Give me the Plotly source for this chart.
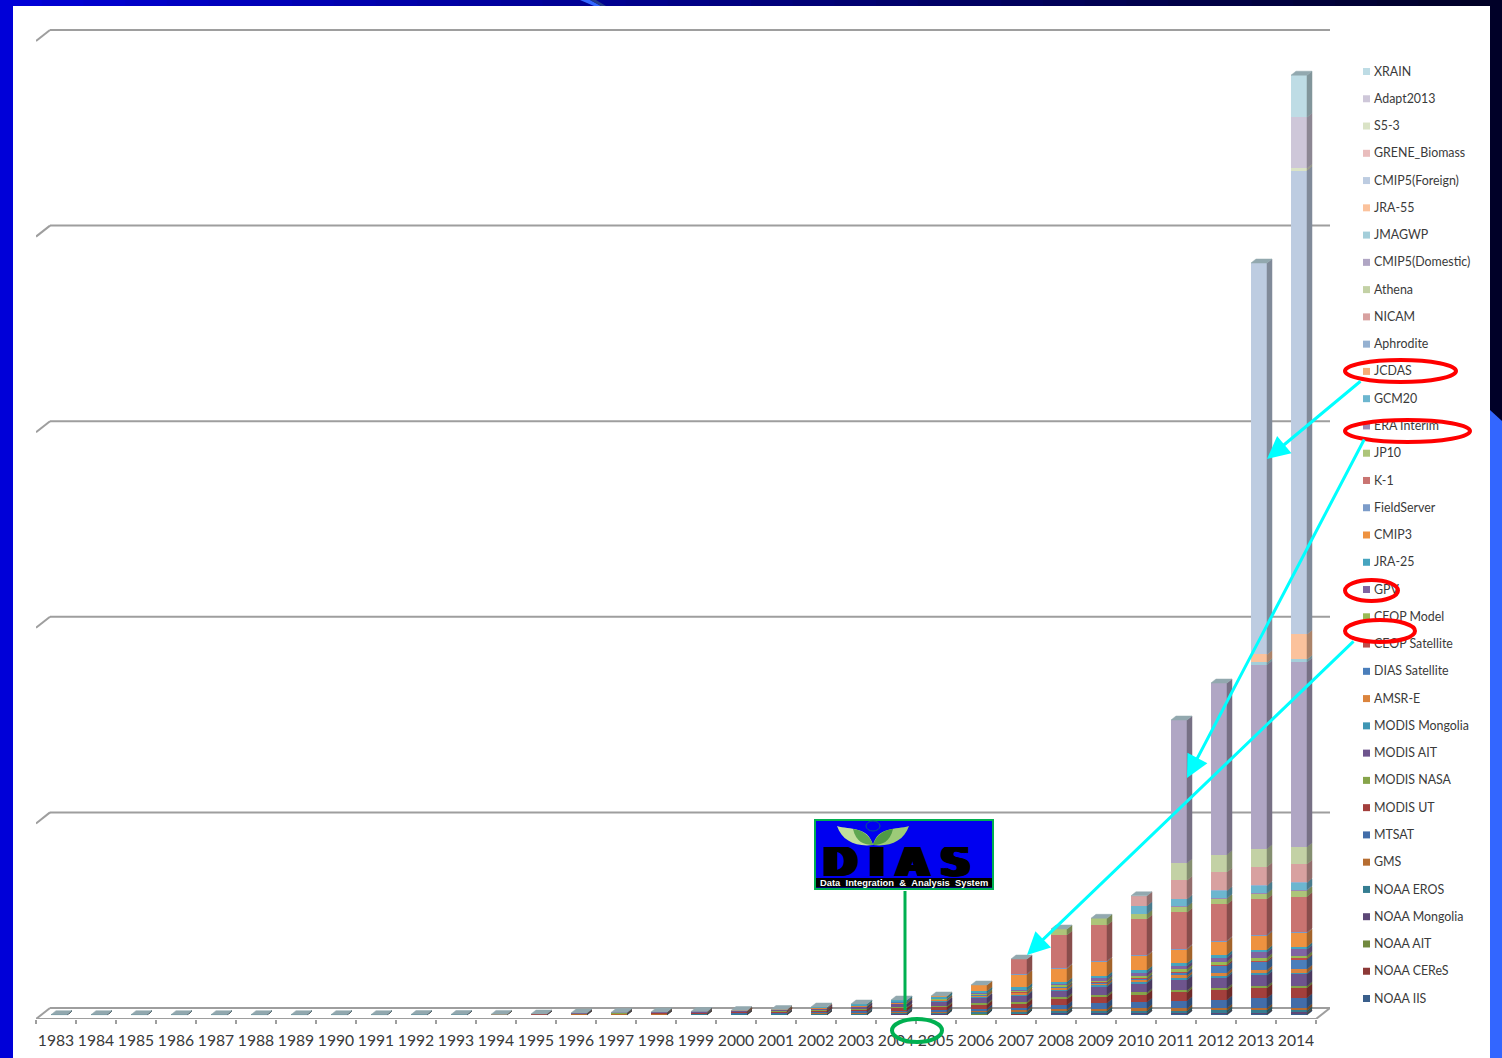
import plotly.graph_objects as go

W, H = 1502, 1058

years = list(range(1983, 2015))

series_names = [
    "NOAA IIS", "NOAA CEReS", "NOAA AIT", "NOAA Mongolia", "NOAA EROS", "GMS", "MTSAT",
    "MODIS UT", "MODIS NASA", "MODIS AIT", "MODIS Mongolia", "AMSR-E", "DIAS Satellite",
    "CEOP Satellite", "CEOP Model", "GPV", "JRA-25", "CMIP3", "FieldServer", "K-1", "JP10",
    "ERA Interim", "GCM20", "JCDAS", "Aphrodite", "NICAM", "Athena", "CMIP5(Domestic)",
    "JMAGWP", "JRA-55", "CMIP5(Foreign)", "GRENE_Biomass", "S5-3", "Adapt2013", "XRAIN",
]

series_colors = [
    "#3A5F8B", "#8C3836", "#71893F", "#5C4776", "#357D91", "#B66D31", "#426DA9",
    "#A33F3C", "#86A44A", "#6E548D", "#3F96B4", "#DB843D", "#4A7EBB",
    "#BD4D4A", "#99BA55", "#8064A2", "#46A4BF", "#EE9240", "#7C9CC9", "#C97471", "#ADC579",
    "#9C88B5", "#6CB6CF", "#F7AC76", "#95B1D1", "#D8A1A0", "#C3D1A5", "#B0A6C4",
    "#A4CEDA", "#FBC29C", "#BDCCE1", "#E9BDBD", "#DAE3C6", "#CEC7D9", "#BEDCE5",
]

# Stacked values per year, bottom series first; series not listed are zero that year.
early_1983 = [.15, .05, .03, .03, .04]
early_1984 = [.15, .05, .03, .03, .04]
early_1985 = [.15, .05, .03, .03, .04]
early_1986 = [.15, .05, .03, .03, .04]
early_1987 = [.15, .05, .03, .03, .04]
early_1988 = [.15, .05, .03, .03, .04]
early_1989 = [.15, .05, .03, .03, .04]
early_1990 = [.15, .05, .03, .03, .04]
early_1991 = [.15, .05, .03, .03, .04]
early_1992 = [.2, .05, .05, .05, .05]
early_1993 = [.2, .05, .05, .05, .15]
early_1994 = [.2, .05, .05, .05, .1, .15]
early_1995 = [.2, .1, .05, .05, .2, .1, .1, .2]
early_1996 = [.3, .1, .1, .1, .2, .2, .2, .4, .1, .3]
early_1997 = [.3, .1, .1, .1, .3, .2, .3, .5, .1, .5]
early_1998 = [.3, .1, .1, .1, .3, .3, .4, .6, .2, .6]
early_1999 = [.3, .1, .1, .1, .4, .3, .5, .8, .2, .7]
early_2000 = [.3, .1, .1, .1, .5, .4, .6, 1, .2, .7, 0, .5]
early_2001 = [.3, .1, .1, .1, .6, .5, .8, 1.3, .3, .9, 0, .5]
early_2002 = [.3, .1, .1, .2, .8, .6, 1, 1.7, .4, 1.3, 0, .7, 0, 0, 0, 0, .8]
early_2003 = [.4, .1, .1, .2, 1, .7, 1.2, 2, .6, 2, .3, .9, 0, 0, .2, 0, 1.3]
early_2004 = [.5, .1, .1, .3, 1.2, .8, 1.5, 2.5, .8, 3.5, .5, 1, .2, 0, .4, 0, 1.6]
early_2005 = [.6, .1, .1, .3, 1.4, 1, 1.6, 3, 1, 4.5, .6, 1.2, .3, 0, .8, 0, 2.1, .4]
mid_2006 = [.7, .2, .1, .3, 1.7, 1.2, 2.2, 4, 1.2, 5.8, .8, 1.5, .5, .1, 1.3, .4, 2, 6]
mid_2007 = [.8, .2, .2, .4, 1.7, 1.3, 2.6, 4.7, 1.3, 6.3, 1, 1.7, .6, .2, 1.5, .6, 2.7, 12.7, .5, 15]
mid_2008 = [1, .2, .2, .5, 2.1, 1.7, 4.3, 6, 1.7, 6.3, 1.2, 2, 1, .3, 1.8, 1, 2, 13.3, .7, 32.7, 6]
mid_2009 = [1, .2, .2, .5, 2.4, 2, 5.7, 6.3, 1.7, 8.3, 1.3, 2, 1, .3, 2, 1.7, 2.7, 14, .7, 35.7, 7]
mid_2010 = [1.1, .2, .2, .5, 2.3, 2.3, 6.3, 8, 1.7, 9.3, 1.3, 2, 1.3, .3, 2.3, 3.2, 2.7, 14, .7, 36.3,
            5, .2, 8, 0, 0, 10]
late_2011 = [1.2, .2, .2, .5, 2.2, 2.3, 7.7, 8.3, 2, 10.7, 2, 2.3, 3, .7, 2.7, 3.3, 2.7, 13.7, .7, 36.3,
             5.7, .3, 7.3, .2, .2, 18.3, 17.3, 143]
late_2012 = [1.3, .2, .2, .5, 2.5, 2.3, 8.3, 9.7, 2, 10.7, 1.7, 3, 6.7, 1.3, 3, 4, 3, 13.3, .7, 36.3,
             5.7, .7, 7.3, .2, .2, 18.3, 17.3, 171.6]
late_2013 = [1.2, .2, .2, .5, 2.9, 2, 10, 10, 2, 10.7, 2.7, 2.7, 8, 1.3, 3, 5.3, 2.7, 14, 1, 35.7,
             5.7, .3, 7.3, .3, .3, 18.3, 18, 184, 2.3, 8, 391.4]
late_2014 = [1.3, .3, .3, .7, 2, 2.7, 10, 10, 2, 11.7, 1.3, 3.7, 9.7, 1, 2.7, 6.3, 2.7, 13.7, .7, 35.7,
             6, .7, 7.3, .3, .3, 18, 17, 185, 2.7, 25, 464, .1, 1.9, 51, 42]

year_rows = [
    early_1983, early_1984, early_1985, early_1986, early_1987, early_1988, early_1989, early_1990,
    early_1991, early_1992, early_1993, early_1994, early_1995, early_1996, early_1997, early_1998,
    early_1999, early_2000, early_2001, early_2002, early_2003, early_2004, early_2005, mid_2006,
    mid_2007, mid_2008, mid_2009, mid_2010, late_2011, late_2012, late_2013, late_2014,
]

GRID_STEP = 195.6
GRID_COUNT = 5

# Screen placement of the plot rectangle and the pseudo-3D offsets.
PLOT_LEFT, PLOT_RIGHT = 36, 1330
PLOT_TOP, PLOT_BOTTOM = 20, 1019
YEAR_PX = 40
BASE_Y = 1015
X_MIN = years[0] - 0.5
X_MAX = X_MIN + (PLOT_RIGHT - PLOT_LEFT) / YEAR_PX
Y_MIN = BASE_Y - PLOT_BOTTOM
Y_MAX = BASE_Y - PLOT_TOP
BAR_OFFSET, BAR_WIDTH = -0.125, 0.4
SIDE_DX, SIDE_DY = 5 / YEAR_PX, 4
WALL_DX, WALL_DY = 14 / YEAR_PX, 7
AXIS_GREY = "#9E9E9E"
TOP_FACE = "#92A8AF"
TEXT_GREY = "#3A3A3A"


def px(x):
    return x / W


def py(y):
    return 1 - y / H


def shade(hex_color, factor=0.68):
    r, g, b = (int(hex_color[i:i + 2], 16) for i in (1, 3, 5))
    return f"rgb({int(r * factor)},{int(g * factor)},{int(b * factor)})"


def value_of(row, i):
    return row[i] if i < len(row) else 0


fig = go.Figure()

# Front faces of the stacked columns.
for i, (name, color) in enumerate(zip(series_names, series_colors)):
    fig.add_trace(go.Bar(
        x=years,
        y=[value_of(row, i) for row in year_rows],
        name=name,
        width=BAR_WIDTH,
        offset=BAR_OFFSET,
        marker=dict(color=color, line=dict(width=0)),
        showlegend=False,
    ))

# Receding side faces, one polygon set per series, stacked from the same values.
running = [0.0] * len(years)
for i, color in enumerate(series_colors):
    xs, ys = [], []
    for j, year in enumerate(years):
        v = value_of(year_rows[j], i)
        if v <= 0:
            continue
        right = year + BAR_OFFSET + BAR_WIDTH
        lo, hi = running[j], running[j] + v
        xs += [right, right + SIDE_DX, right + SIDE_DX, right, right, None]
        ys += [lo, lo + SIDE_DY, hi + SIDE_DY, hi, lo, None]
        running[j] = hi
    fig.add_trace(go.Scatter(
        x=xs, y=ys, mode="lines", fill="toself", fillcolor=shade(color),
        line=dict(width=0.5, color=shade(color)), hoverinfo="skip", showlegend=False,
    ))

# Top caps of every column.
cap_x, cap_y = [], []
for j, year in enumerate(years):
    left = year + BAR_OFFSET
    right = left + BAR_WIDTH
    top = running[j]
    cap_x += [left, left + SIDE_DX, right + SIDE_DX, right, left, None]
    cap_y += [top, top + SIDE_DY, top + SIDE_DY, top, top, None]
fig.add_trace(go.Scatter(
    x=cap_x, y=cap_y, mode="lines", fill="toself", fillcolor=TOP_FACE,
    line=dict(width=0.5, color=TOP_FACE), hoverinfo="skip", showlegend=False,
))

# Series key: markers and names stacked in series order.
KEY_TOP, KEY_BOTTOM = 71.5, 998.5
key_step = (KEY_BOTTOM - KEY_TOP) / (len(series_names) - 1)
key_rows = list(range(len(series_names)))
fig.add_trace(go.Scatter(
    x=[0] * len(series_names), y=key_rows, mode="markers",
    marker=dict(symbol="square", size=7, color=series_colors, line=dict(width=0)),
    xaxis="x2", yaxis="y2", hoverinfo="skip", showlegend=False, cliponaxis=False,
))
fig.add_trace(go.Scatter(
    x=[7.5] * len(series_names),
    y=[r - 1 / key_step for r in key_rows],
    mode="text",
    text=series_names,
    textposition="middle right",
    textfont=dict(family="Lato", size=12.4, color=TEXT_GREY),
    xaxis="x2", yaxis="y2", hoverinfo="skip", showlegend=False, cliponaxis=False,
))

shapes = []


def rect(x0, y0, x1, y1, color):
    shapes.append(dict(type="rect", xref="paper", yref="paper", x0=px(x0), x1=px(x1),
                       y0=py(y0), y1=py(y1), fillcolor=color, line=dict(width=0)))


def poly(points, color, width=0, line_color=None):
    path = "M" + "L".join(f"{px(a):.5f},{py(b):.5f}" for a, b in points) + "Z"
    shapes.append(dict(type="path", xref="paper", yref="paper", path=path, fillcolor=color,
                       line=dict(width=width, color=line_color or color)))


def curve(path_px, color):
    out = []
    for token in path_px:
        if isinstance(token, str):
            out.append(token)
        else:
            out.append(f"{px(token[0]):.5f},{py(token[1]):.5f}")
    shapes.append(dict(type="path", xref="paper", yref="paper", path=" ".join(out) + " Z",
                       fillcolor=color, line=dict(width=0)))


def ellipse(x0, y0, x1, y1, color, width):
    shapes.append(dict(type="circle", xref="paper", yref="paper", x0=px(x0), x1=px(x1),
                       y0=py(y0), y1=py(y1), fillcolor="rgba(0,0,0,0)",
                       line=dict(color=color, width=width)))


# Wall gridlines and floor, kept under the columns.
def data_line(x0, y0, x1, y1):
    shapes.append(dict(type="line", xref="x", yref="y", x0=x0, x1=x1, y0=y0, y1=y1, layer="below",
                       line=dict(color=AXIS_GREY, width=2)))


for k in range(GRID_COUNT + 1):
    level = k * GRID_STEP
    data_line(X_MIN + WALL_DX, level + WALL_DY, X_MAX, level + WALL_DY)
    data_line(X_MIN, level + Y_MIN, X_MIN + WALL_DX, level + WALL_DY)
data_line(X_MIN, Y_MIN, X_MAX - WALL_DX, Y_MIN)
data_line(X_MAX - WALL_DX, Y_MIN, X_MAX, WALL_DY)

# Slide frame around the chart: a gradient strip on top and bars at the sides.
STRIP_STEPS = 36
for s in range(STRIP_STEPS):
    t = s / (STRIP_STEPS - 1)
    blue = int(215 + (38 - 215) * t)
    rect(s * W / STRIP_STEPS, 0, (s + 1) * W / STRIP_STEPS + 1, 6, f"rgb(0,0,{blue})")
poly([(580, 0), (590, 0), (601, 6), (594, 6)], "#3366FF")
poly([(590, 0), (596, 0), (606, 6), (601, 6)], "#223C8C")
rect(0, 0, 13, H, "#0000D8")
rect(1490, 0, W, 425, "#000028")
poly([(1490, 410), (W, 421), (W, H), (1490, H)], "#3366FF")

# Logo panel with its leader line.
shapes.append(dict(type="line", xref="paper", yref="paper", x0=px(905), x1=px(905), y0=py(891), y1=py(1010),
                   line=dict(color="#00B050", width=3)))
shapes.append(dict(type="rect", xref="paper", yref="paper", x0=px(815), x1=px(993), y0=py(820), y1=py(889),
                   fillcolor="#0000F0", line=dict(color="#00B050", width=2)))
rect(816, 878, 992, 887.5, "#000000")
curve(["M", (837, 826), "C", (850, 830), (868, 826), (873, 845), "C", (856, 847), (842, 841), (837, 826)], "#C2DE9C")
curve(["M", (909, 826), "C", (896, 830), (878, 826), (873, 845), "C", (890, 847), (904, 841), (909, 826)], "#9CCB78")
curve(["M", (853, 829), "C", (862, 830), (870, 835), (873, 845), "C", (864, 845), (856, 842), (853, 829)], "#5FA650")
curve(["M", (893, 829), "C", (884, 830), (876, 835), (873, 845), "C", (882, 845), (890, 842), (893, 829)], "#4F9A45")
ellipse(866, 821, 880, 831, "#0A5A8C", 1)

# Callout rings.
ellipse(1345, 360, 1456, 382, "#FF0000", 4)
ellipse(1345, 420, 1470, 442, "#FF0000", 4)
ellipse(1345, 580, 1398, 601, "#FF0000", 4)
ellipse(1345, 620, 1415, 642, "#FF0000", 4)
ellipse(892, 1019, 942, 1042, "#00B050", 4)

annotations = [
    dict(xref="paper", yref="paper", x=px(896.5), y=py(862), text="D\u200a\u2009I\u200a\u2009A\u200a\u2009S",
         showarrow=False, xanchor="center", yanchor="middle", height=30,
         font=dict(family="DejaVu Sans", size=41, color="#000000", weight=700,
                   shadow="3px 0 0 #000, -3px 0 0 #000, 1.5px 0 0 #000, -1.5px 0 0 #000")),
    dict(xref="paper", yref="paper", x=px(904), y=py(882.5),
         text="Data\u00a0\u00a0Integration\u00a0\u00a0&\u00a0\u00a0Analysis\u00a0\u00a0System",
         showarrow=False, xanchor="center", yanchor="middle",
         font=dict(family="Liberation Sans", size=9.4, color="#FFFFFF", weight=700)),
]

# Cyan pointers from the key to the columns.
for (x_from, y_from, x_to, y_to) in [(1362, 380, 1267, 459), (1365, 438, 1187, 778), (1355, 640, 1027, 955)]:
    annotations.append(dict(
        xref="paper", yref="paper", x=px(x_to), y=py(y_to), text="",
        showarrow=True, ax=x_from - x_to, ay=y_from - y_to, axref="pixel", ayref="pixel",
        arrowhead=2, arrowsize=1.5, arrowwidth=3, arrowcolor="#00FFFF", standoff=0,
    ))

fig.update_layout(
    width=W, height=H,
    margin=dict(l=0, r=0, t=0, b=0),
    paper_bgcolor="#FFFFFF", plot_bgcolor="rgba(0,0,0,0)",
    barmode="stack",
    showlegend=False,
    shapes=shapes,
    annotations=annotations,
    xaxis=dict(
        domain=[px(PLOT_LEFT), px(PLOT_RIGHT)],
        range=[X_MIN, X_MAX],
        tickmode="array",
        tickvals=years,
        ticktext=[str(y) for y in years],
        ticks="outside", ticklen=7, tickcolor="rgba(0,0,0,0)",
        tickfont=dict(family="Lato", size=15.7, color=TEXT_GREY),
        tickangle=0,
        showgrid=False, zeroline=False, showline=False,
        minor=dict(tickmode="array", tickvals=[y - 0.5 for y in years] + [years[-1] + 0.5],
                   ticks="outside", ticklen=4, tickwidth=2, tickcolor=AXIS_GREY, showgrid=False),
    ),
    yaxis=dict(
        domain=[py(PLOT_BOTTOM), py(PLOT_TOP)],
        range=[Y_MIN, Y_MAX],
        visible=False,
    ),
    xaxis2=dict(domain=[px(1360), px(1490)], range=[-6.5, 123.5], visible=False, anchor="y2"),
    yaxis2=dict(
        domain=[py(KEY_BOTTOM + key_step / 2), py(KEY_TOP - key_step / 2)],
        range=[-0.5, len(series_names) - 0.5],
        visible=False, anchor="x2",
    ),
)

fig.write_html("out.html")
